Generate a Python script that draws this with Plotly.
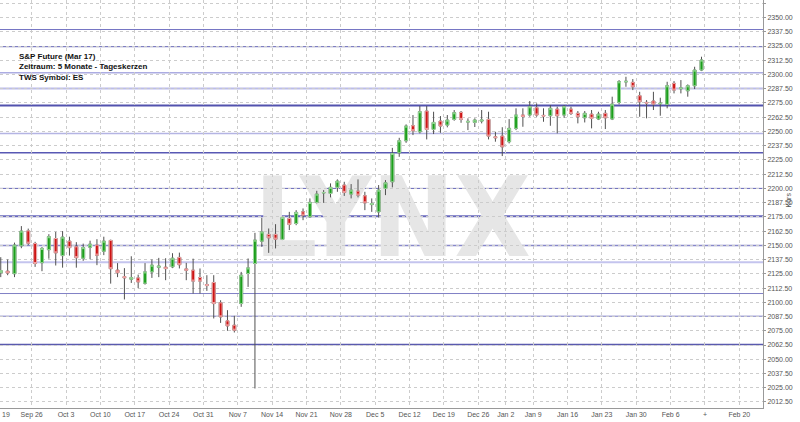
import pandas as pd
import plotly.graph_objects as go

# Trading days of the ES (Mar 17) contract shown in the chart
holidays = ["2016-12-26", "2017-01-02"]
dates = pd.bdate_range("2016-09-19", "2017-02-10", freq="C", holidays=holidays)

opens = [2126.0, 2127.3, 2125.1, 2149.6, 2162.7, 2151.6, 2134.8, 2146.2, 2156.0, 2141.0,
         2153.7, 2148.7, 2138.7, 2148.4, 2150.2, 2144.9, 2154.3, 2128.2, 2122.5, 2120.3,
         2121.4, 2116.8, 2126.7, 2130.8, 2130.8, 2131.1, 2139.4, 2129.3, 2128.2, 2121.8,
         2115.6, 2117.4, 2099.5, 2083.7, 2079.9, 2098.9, 2125.3, 2134.1, 2153.7, 2159.6,
         2159.6, 2155.2, 2173.6, 2169.2, 2179.4, 2175.1, 2187.7, 2196.1, 2195.6, 2200.9,
         2202.9, 2195.0, 2197.6, 2193.5, 2185.8, 2179.4, 2200.0, 2205.8, 2231.3, 2241.8,
         2255.0, 2249.7, 2267.9, 2251.8, 2259.1, 2255.6, 2260.6, 2266.7, 2258.2, 2258.0,
         2259.1, 2260.6, 2245.3, 2245.9, 2241.0, 2252.7, 2264.4, 2264.4, 2270.8, 2264.1,
         2263.8, 2269.6, 2264.4, 2269.6, 2265.9, 2262.0, 2265.2, 2260.9, 2265.9, 2260.9,
         2275.5, 2293.4, 2293.1, 2281.3, 2275.5, 2276.7, 2274.3, 2273.8, 2292.2, 2287.5,
         2285.7, 2290.1, 2303.9]
highs = [2139.6, 2137.6, 2152.4, 2166.9, 2164.7, 2153.1, 2148.5, 2159.8, 2161.8, 2162.5,
         2157.6, 2152.8, 2151.5, 2154.1, 2155.4, 2157.6, 2155.0, 2134.4, 2130.0, 2140.4,
         2124.3, 2134.4, 2137.6, 2139.0, 2138.7, 2143.1, 2143.6, 2134.6, 2138.3, 2129.7,
         2123.8, 2123.8, 2101.8, 2093.1, 2088.1, 2126.7, 2138.5, 2161.0, 2174.2, 2164.8,
         2168.6, 2175.1, 2179.4, 2180.9, 2182.4, 2191.2, 2197.9, 2198.5, 2204.4, 2207.9,
         2205.8, 2203.8, 2207.9, 2197.0, 2191.2, 2202.9, 2207.3, 2235.6, 2244.4, 2256.2,
         2264.4, 2272.3, 2272.3, 2267.3, 2263.5, 2264.4, 2268.8, 2267.9, 2261.5, 2261.5,
         2268.8, 2267.3, 2249.7, 2253.7, 2260.8, 2270.3, 2270.3, 2276.7, 2274.6, 2270.3,
         2273.2, 2271.7, 2273.2, 2271.7, 2267.9, 2267.9, 2268.8, 2267.3, 2268.8, 2280.5,
         2295.1, 2298.0, 2296.0, 2284.8, 2277.5, 2284.8, 2279.6, 2293.6, 2294.2, 2295.1,
         2291.3, 2306.8, 2315.6]
lows = [2122.1, 2123.8, 2122.1, 2147.5, 2150.2, 2131.1, 2127.3, 2138.3, 2132.3, 2130.4,
        2141.0, 2130.4, 2136.4, 2137.8, 2132.6, 2141.4, 2116.4, 2122.1, 2102.5, 2117.0,
        2112.4, 2115.5, 2121.4, 2122.1, 2119.4, 2130.0, 2129.7, 2119.4, 2107.7, 2107.7,
        2110.0, 2085.8, 2081.9, 2075.0, 2073.5, 2096.0, 2113.5, 2024.3, 2148.7, 2143.4,
        2147.3, 2154.6, 2163.4, 2167.7, 2172.1, 2174.2, 2186.8, 2187.3, 2192.1, 2197.0,
        2193.4, 2191.2, 2192.1, 2180.9, 2179.4, 2174.5, 2194.1, 2200.9, 2227.7, 2240.0,
        2246.8, 2248.3, 2243.0, 2247.7, 2248.8, 2253.6, 2259.4, 2257.6, 2251.2, 2253.9,
        2257.1, 2243.0, 2241.0, 2228.4, 2239.5, 2251.2, 2254.1, 2262.9, 2262.9, 2258.5,
        2255.0, 2248.3, 2262.0, 2264.4, 2257.1, 2257.9, 2252.7, 2260.0, 2252.1, 2260.0,
        2273.8, 2289.2, 2286.3, 2262.9, 2261.5, 2268.8, 2263.8, 2270.3, 2283.4, 2283.4,
        2280.5, 2287.2, 2303.0]
closes = [2127.8, 2125.8, 2150.2, 2162.5, 2151.9, 2134.1, 2147.3, 2157.6, 2143.4, 2157.2,
          2148.0, 2139.2, 2148.0, 2151.0, 2141.4, 2153.7, 2129.5, 2126.0, 2121.6, 2121.6,
          2117.9, 2126.7, 2132.6, 2131.7, 2129.6, 2138.7, 2133.0, 2128.2, 2118.6, 2118.6,
          2114.7, 2098.9, 2087.2, 2079.3, 2075.5, 2123.8, 2130.2, 2154.6, 2161.8, 2156.6,
          2155.4, 2174.5, 2168.4, 2178.9, 2176.5, 2187.7, 2195.0, 2196.3, 2200.9, 2206.4,
          2196.5, 2198.5, 2194.1, 2187.3, 2186.6, 2198.5, 2204.9, 2230.7, 2241.8, 2254.7,
          2250.6, 2267.3, 2251.8, 2257.9, 2254.7, 2260.0, 2266.4, 2260.6, 2258.8, 2260.0,
          2260.0, 2245.9, 2244.5, 2236.5, 2252.7, 2264.4, 2263.2, 2271.7, 2264.4, 2263.5,
          2270.3, 2263.8, 2271.7, 2265.9, 2262.9, 2265.9, 2261.5, 2265.2, 2262.0, 2274.0,
          2293.6, 2294.0, 2289.2, 2276.1, 2274.9, 2274.0, 2274.7, 2290.1, 2286.3, 2288.1,
          2290.1, 2303.9, 2312.7]

# horizontal support / resistance lines drawn on the chart
levels = [2339.5, 2324.4, 2301.5, 2287.7, 2272.7, 2248.3, 2231.4, 2200.0,
          2175.6, 2149.9, 2135.2, 2107.7, 2087.8, 2062.9]
level_colors = ["#7676c4", "#6262b6", "#acace2", "#bcbcea", "#5252ae", "#b4b4e4", "#5858b4",
                "#6464ba", "#6868bc", "#8888cc", "#c4c4ee", "#8080c6", "#7878c2", "#5a5aae"]
level_widths = [1, 1, 1.5, 2, 2, 1.5, 1.5, 1, 2, 1.5, 2, 1, 1, 1.5]

future_weeks = ["2017-02-13", "2017-02-20"]
future_labels = ["+", "Feb 20"]

x = list(range(len(dates)))
body_hi = [max(o, c) for o, c in zip(opens, closes)]
body_lo = [min(o, c) for o, c in zip(opens, closes)]

# week ticks sit on the boundary before the first trading day of each week
week_start = dates - pd.to_timedelta(dates.weekday, unit="D")
tick_pos, tick_text = [], []
for i in range(len(dates)):
    if i == 0 or week_start[i] != week_start[i - 1]:
        tick_pos.append(i - 0.5)
        tick_text.append(week_start[i].strftime("%b %-d"))
for k, lab in enumerate(future_labels):
    tick_pos.append(len(dates) - 0.5 + 5 * k)
    tick_text.append(lab)

fig = go.Figure()

# wicks
fig.add_trace(go.Candlestick(
    x=x, open=opens, high=highs, low=lows, close=closes,
    increasing=dict(line=dict(color="#505050", width=1), fillcolor="#505050"),
    decreasing=dict(line=dict(color="#505050", width=1), fillcolor="#505050"),
    whiskerwidth=0, hoverinfo="skip"
))
# bodies
fig.add_trace(go.Candlestick(
    x=x, open=opens, high=body_hi, low=body_lo, close=closes,
    increasing=dict(line=dict(color="#9ad89a", width=1), fillcolor="#1c9e1c"),
    decreasing=dict(line=dict(color="#f0a8a8", width=1), fillcolor="#cc1414"),
    whiskerwidth=0
))

for lv, col, w in zip(levels, level_colors, level_widths):
    fig.add_shape(type="line", xref="paper", x0=0, x1=1, y0=lv, y1=lv,
                  line=dict(color=col, width=w), layer="below")

# LYNX watermark
fig.add_shape(type="rect", xref="paper", yref="paper",
              x0=280 / 763, x1=505 / 763, y0=1 - 265 / 408, y1=1 - 155 / 408,
              line=dict(width=0), fillcolor="rgba(0,0,0,0)", layer="below",
              label=dict(text="<b>LYNX</b>", textposition="middle center",
                         font=dict(size=110, color="#e6e6e6",
                                   family="Liberation Sans Narrow, DejaVu Sans Condensed, Liberation Sans")))

fig.add_annotation(
    xref="paper", yref="paper", x=17 / 763, y=1 - 50 / 408, xanchor="left", yanchor="top",
    align="left", showarrow=False,
    text="<b>S&amp;P Future (Mar 17)</b><br><b>Zeitraum: 5 Monate - Tageskerzen</b><br><b>TWS Symbol: ES</b>",
    font=dict(size=8, color="#111111", family="Liberation Sans")
)
fig.add_annotation(xref="paper", yref="paper", x=0, y=0, xanchor="left", yanchor="top",
                   yshift=-1, showarrow=False, text="19",
                   font=dict(size=7, color="#555555", family="Liberation Sans"))
fig.add_annotation(xref="paper", yref="paper", x=793 / 763, y=1 - 200 / 408,
                   showarrow=False, text="Kurs", textangle=-90,
                   font=dict(size=7, color="#555555", family="Liberation Sans"))

fig.update_layout(
    width=800, height=422, margin=dict(l=0, r=37, t=0, b=14, autoexpand=False),
    paper_bgcolor="white", plot_bgcolor="white", showlegend=False,
    boxgap=0.4,
    font=dict(family="Liberation Sans", size=7, color="#555555"),
    xaxis=dict(range=[-0.11, 110.95], tickmode="array", tickvals=tick_pos, ticktext=tick_text,
               showgrid=True, gridcolor="#cccccc", griddash="dot", gridwidth=1,
               zeroline=False, showline=True, linecolor="#999999", ticks="", ticklen=0,
               automargin=False, ticklabelstandoff=0,
               rangeslider=dict(visible=False), tickfont=dict(size=7, color="#555555")),
    yaxis=dict(side="right", range=[2007.2, 2365.4], tick0=2012.5, dtick=12.5,
               tickformat=".2f", showgrid=True, gridcolor="#cccccc", griddash="dot",
               zeroline=False, showline=True, linecolor="#999999", ticks="outside",
               ticklen=2, tickcolor="#999999", automargin=False, ticklabelstandoff=0,
               tickfont=dict(size=7, color="#555555")),
)

# the page body has a default 8px margin; drop it so the chart fills the window
fig.write_html("out.html", config={"displayModeBar": False},
               post_script="document.body.style.margin = '0';")
